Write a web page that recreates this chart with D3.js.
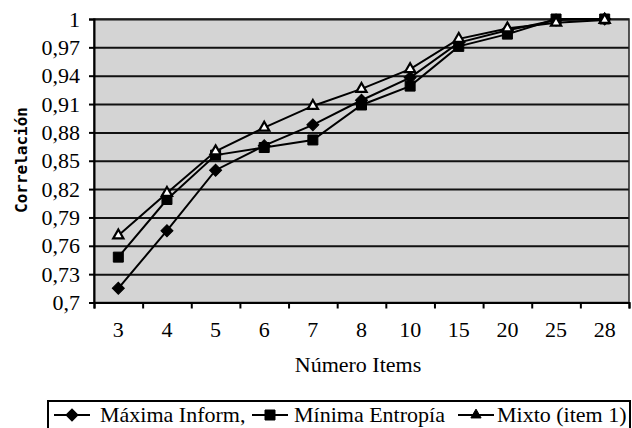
<!DOCTYPE html>
<html>
<head>
<meta charset="utf-8">
<script src="https://cdn.jsdelivr.net/npm/d3@7"></script>
<style>
  body { margin: 0; background: #fff; }
  text { font-family: "Liberation Serif", "DejaVu Serif", "Times New Roman", serif; fill: #000; }
</style>
</head>
<body>
<script>
// data
const categories = ["3", "4", "5", "6", "7", "8", "10", "15", "20", "25", "28"];
const maxInform = [0.715, 0.776, 0.840, 0.866, 0.888, 0.914, 0.938, 0.975, 0.988, 0.999, 1.0];
const minEntropia = [0.748, 0.809, 0.856, 0.864, 0.872, 0.909, 0.929, 0.971, 0.984, 1.0, 1.0];
const mixto = [0.771, 0.816, 0.860, 0.885, 0.908, 0.926, 0.947, 0.979, 0.990, 0.996, 0.999];
const yTicks = [0.7, 0.73, 0.76, 0.79, 0.82, 0.85, 0.88, 0.91, 0.94, 0.97, 1];
const seriesNames = ["Máxima Inform,", "Mínima Entropía", "Mixto (item 1)"];

const serif = "'Liberation Serif', 'DejaVu Serif', 'Times New Roman', serif";

// dimensions
var width = 632, height = 428;
var margin = {top: 19, right: 3, bottom: 125.5, left: 94};
var w = width - margin.left - margin.right;
var h = height - margin.top - margin.bottom;

var svg = d3.select("body").append("svg")
    .attr("width", width)
    .attr("height", height);

var g = svg.append("g")
    .attr("transform", "translate(" + margin.left + "," + margin.top + ")");

var x = d3.scaleBand().domain(categories).range([0, w]).padding(0);
var xEdges = d3.scaleLinear().domain([0, categories.length]).range([0, w]);
var y = d3.scaleLinear().domain([0.7, 1]).range([h, 0]);

// plot background
g.append("rect")
    .attr("width", w)
    .attr("height", h)
    .attr("fill", "#d4d4d4");

// grid lines
g.append("g")
    .call(d3.axisLeft(y).tickValues(yTicks).tickSize(-w).tickFormat(""))
    .call(a => a.select(".domain").remove())
    .call(a => a.selectAll("line").attr("stroke", "#111").attr("stroke-width", 2));

// border
g.append("rect")
    .attr("width", w)
    .attr("height", h)
    .attr("fill", "none")
    .attr("stroke", "#222")
    .attr("stroke-width", 1.5);

// y axis
g.append("g")
    .call(d3.axisLeft(y).tickValues(yTicks).tickSize(5).tickPadding(9)
        .tickFormat(d => String(+d.toFixed(2)).replace(".", ",")))
    .attr("font-family", serif)
    .call(a => a.select(".domain").attr("stroke", "#000").attr("stroke-width", 2))
    .call(a => a.selectAll("line").attr("stroke", "#000").attr("stroke-width", 2))
    .call(a => a.selectAll("text").style("font-family", serif).style("font-size", "22px"));

// x axis ticks at category edges
g.append("g")
    .attr("transform", "translate(0," + h + ")")
    .call(d3.axisBottom(xEdges).tickValues(d3.range(categories.length + 1)).tickSize(6).tickFormat(""))
    .call(a => a.select(".domain").attr("stroke", "#000").attr("stroke-width", 2))
    .call(a => a.selectAll("line").attr("stroke", "#000").attr("stroke-width", 2));

// x axis labels
g.append("g")
    .attr("transform", "translate(0," + h + ")")
    .call(d3.axisBottom(x).tickSize(0).tickPadding(19))
    .attr("font-family", serif)
    .call(a => a.select(".domain").remove())
    .call(a => a.selectAll("text").style("font-family", serif).style("font-size", "22px"));

// axis titles
svg.append("text")
    .attr("x", 358)
    .attr("y", 372)
    .attr("text-anchor", "middle")
    .style("font-family", serif)
    .style("font-size", "22px")
    .text("Número Items");

svg.append("text")
    .attr("transform", "translate(27,160) rotate(-90)")
    .attr("text-anchor", "middle")
    .style("font-family", "'DejaVu Sans Mono', monospace")
    .style("font-weight", "bold")
    .style("font-size", "16px")
    .text("Correlación");

// markers
var diamond = d3.symbol().type(d3.symbolSquare).size(72);
var square = d3.symbol().type(d3.symbolSquare).size(100);
var triangle = d3.symbol().type(d3.symbolTriangle).size(45);

var series = [
    {values: maxInform, sym: diamond, rot: 45, fill: "#000", stroke: "#000", sw: 1},
    {values: minEntropia, sym: square, rot: 0, fill: "#000", stroke: "#000", sw: 1},
    {values: mixto, sym: triangle, rot: 0, fill: "#fff", stroke: "#000", sw: 2.2}
];

var line = d3.line()
    .x((d, i) => x(categories[i]) + x.bandwidth() / 2)
    .y(d => y(d));

series.forEach(function(s) {
    g.append("path")
        .datum(s.values)
        .attr("fill", "none")
        .attr("stroke", "#000")
        .attr("stroke-width", 2)
        .attr("d", line);

    g.selectAll(null)
        .data(s.values)
        .enter()
        .append("path")
        .attr("d", s.sym)
        .attr("transform", (d, i) => "translate(" + (x(categories[i]) + x.bandwidth() / 2) + "," + y(d) + ") rotate(" + s.rot + ")")
        .attr("fill", s.fill)
        .attr("stroke", s.stroke)
        .attr("stroke-width", s.sw);
});

// legend
var legend = svg.append("g");
legend.append("rect")
    .attr("x", 48)
    .attr("y", 401)
    .attr("width", 582)
    .attr("height", 40)
    .attr("fill", "#fff")
    .attr("stroke", "#000")
    .attr("stroke-width", 2);

var legendX = [54, 252, 458];
series.forEach(function(s, i) {
    var lx = legendX[i];
    legend.append("line")
        .attr("x1", lx).attr("x2", lx + 36)
        .attr("y1", 415).attr("y2", 415)
        .attr("stroke", "#000")
        .attr("stroke-width", 2);
    legend.append("path")
        .attr("d", s.sym)
        .attr("transform", "translate(" + (lx + 18) + ",415) rotate(" + s.rot + ")")
        .attr("fill", i == 2 ? "#000" : s.fill)
        .attr("stroke", "#000")
        .attr("stroke-width", 1);
    legend.append("text")
        .attr("x", lx + (i == 0 ? 46 : (i == 1 ? 42 : 39)))
        .attr("y", 422)
        .style("font-family", serif)
        .style("font-size", "22px")
        .text(seriesNames[i]);
});
</script>
</body>
</html>
